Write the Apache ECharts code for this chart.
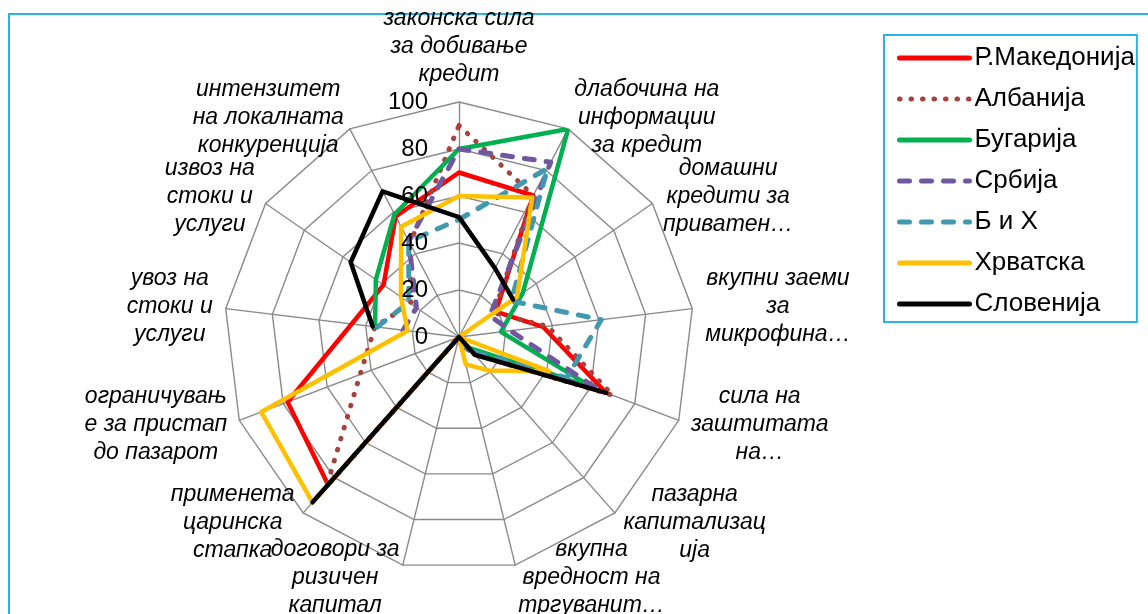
<!DOCTYPE html>
<html>
<head>
<meta charset="utf-8">
<title>Радар</title>
<script src="https://cdn.jsdelivr.net/npm/echarts@6/dist/echarts.min.js"></script>
<style>
	html, body { margin: 0; padding: 0; background: #fff; overflow: hidden; }
	#frame { position: absolute; left: 8px; top: 13px; width: 1200px; height: 700px; border: 2px solid #2cb1e8; }
	#chart { position: absolute; left: 0; top: 0; width: 1148px; height: 614px; }
</style>
</head>
<body>
<div id="frame"></div>
<div id="chart"></div>
<script>
// индикатори, по редот на часовникот од горе
var indicatorNames = [
	'законска сила\nза добивање\nкредит',
	'длабочина на\nинформации\nза кредит',
	'домашни\nкредити за\nприватен…',
	'вкупни заеми\nза\nмикрофина…',
	'сила на\nзаштитата\nна…',
	'пазарна\nкапитализац\nија',
	'вкупна\nвредност на\nтргуванит…',
	'договори за\nризичен\nкапитал',
	'применета\nцаринска\nстапка',
	'ограничувањ\nе за пристап\nдо пазарот',
	'увоз на\nстоки и\nуслуги',
	'извоз на\nстоки и\nуслуги',
	'интензитет\nна локалната\nконкуренција'
];

var radiusTicks = [0, 20, 40, 60, 80, 100];

// вредности (null = нема податок)
var makedonija = [70, 68, 19, 36, 67, 10, 0, 0, 84, 78, 46, 39, 58];
var albanija   = [90, 68, 18, 38, 70, 10, 0, 0, 85, 45, 36, 25, 45];
var bugarija   = [80, 100, 33, 18, 61, 6, 0, 0, 0, null, 36, 43, 59];
var srbija     = [80, 84, 16, 22, 64, 10, 3, 0, 0, null, 24, 22, 46];
var bih        = [50, 81, 27, 61, 49, 8, 2, 0, 0, null, 35, 26, 46];
var hrvatska   = [60, 67, 30, 0, 41, 19, 12, 0, 94, 90, 22, 30, 53];
var slovenija  = [51, 33, 28, null, 67, 10, 0, 0, 94, null, 37, 56, 70];

var seriesNames = ['Р.Македонија', 'Албанија', 'Бугарија', 'Србија', 'Б и Х', 'Хрватска', 'Словенија'];
var seriesValues = [makedonija, albanija, bugarija, srbija, bih, hrvatska, slovenija];
var seriesColors = ['#ff0000', '#a5423e', '#00b050', '#70589f', '#4198af', '#ffc000', '#000000'];

var center = [459, 337];
var radius = 235;
var font = '"Liberation Sans", Arial, sans-serif';
var gridColor = '#8a8a8a';

/**
 * стил на линијата за секоја серија
 */
var lineStyleFor = function (idx) {
	var style = { color: seriesColors[idx], width: 4.5, cap: 'round', join: 'round' };
	if (idx === 1) {
		style.type = [0.5, 11];
		style.width = 5;
	} else if (idx === 3 || idx === 4) {
		style.type = [10, 12];
		style.width = 5;
	}
	return style;
};

/**
 * радарот во echarts оди спротивно од часовникот, па редот се превртува
 */
var radarIndicators = [];
for (var k = 0; k < indicatorNames.length; k++) {
	var idx = (indicatorNames.length - k) % indicatorNames.length;
	radarIndicators.push({ name: indicatorNames[idx], min: 0, max: 100 });
}

/**
 * поларни точки [вредност, агол] — затворен полигон, со прекини
 */
var toPolar = function (values) {
	var out = [];
	for (var i = 0; i <= values.length; i++) {
		var v = values[i % values.length];
		out.push([v === null ? '-' : v, i]);
	}
	return out;
};

var series = [];
for (var s = 0; s < seriesNames.length; s++) {
	series.push({
		name: seriesNames[s],
		type: 'line',
		coordinateSystem: 'polar',
		data: toPolar(seriesValues[s]),
		symbol: 'none',
		connectNulls: false,
		color: seriesColors[s],
		lineStyle: lineStyleFor(s),
		z: 3
	});
}

var chart = echarts.init(document.getElementById('chart'));
chart.setOption({
	animation: false,
	textStyle: { fontFamily: font },
	radar: {
		center: center,
		radius: radius,
		startAngle: 90,
		shape: 'polygon',
		splitNumber: 5,
		indicator: radarIndicators,
		nameGap: 13,
		z: 1,
		axisName: {
			color: '#000',
			formatter: function (name) {
				return name.split('\n').map(function (line) {
					return '{n|' + line + '}';
				}).join('\n');
			},
			rich: {
				n: {
					align: 'center',
					fontFamily: font,
					fontStyle: 'italic',
					fontSize: 23,
					lineHeight: 28,
					color: '#000'
				}
			}
		},
		axisLine: { lineStyle: { color: gridColor, width: 1.4 } },
		splitLine: { lineStyle: { color: gridColor, width: 1.4 } },
		splitArea: { show: false },
		axisTick: { show: false },
		axisLabel: { show: false }
	},
	polar: {
		center: center,
		radius: radius
	},
	angleAxis: {
		type: 'value',
		min: 0,
		max: indicatorNames.length,
		startAngle: 90,
		clockwise: true,
		show: false
	},
	radiusAxis: {
		type: 'value',
		min: radiusTicks[0],
		max: radiusTicks[radiusTicks.length - 1],
		interval: radiusTicks[1] - radiusTicks[0],
		axisLine: { show: false },
		axisTick: { show: false },
		splitLine: { show: false },
		axisLabel: { margin: 31, fontSize: 24, color: '#000', fontFamily: font },
		z: 4
	},
	legend: {
		orient: 'vertical',
		left: 884,
		top: 35,
		data: seriesNames,
		itemWidth: 70,
		itemHeight: 16,
		itemGap: 15,
		padding: [10, 2, 5, 13],
		borderColor: '#2cb1e8',
		borderWidth: 2,
		itemStyle: { color: 'rgba(0,0,0,0)', borderColor: 'rgba(0,0,0,0)', borderWidth: 0 },
		lineStyle: { width: 5, cap: 'round' },
		textStyle: { fontSize: 26, color: '#000', fontFamily: font }
	},
	series: series
});
</script>
</body>
</html>
